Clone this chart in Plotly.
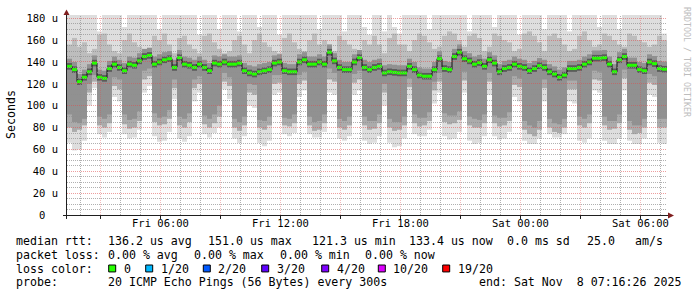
import plotly.graph_objects as go
import pandas as pd

# ---------------- data: 15-minute slices from Fri 7 Nov 01:19:30 to Sat 8 Nov 07:19:30 ----------------
median = [136,133,122,126,131,139,126,125,134,138,
          135,132,138,137,141,145,146,138,140,142,
          143,135,144,138,137,135,138,135,132,139,
          138,140,138,138,139,132,130,129,131,132,
          133,139,140,132,131,131,140,142,138,138,
          140,138,149,141,135,133,133,140,144,135,
          133,135,136,130,131,130.5,130,130,136,133,
          128,127,127,133,143,134,133,145,149,143,
          141,138,139.5,136,142,139,131,134,135,138,
          136,135,132,134,136.6,135,131,129,126,128,
          134,134,135,138,140,143.5,143.5,144,138,131,
          142,145,137,137,133,132,140,138.5,134,133.4]

smoke_min = [66,59,60,68,100,116,74,71,76,108,
             104,74,70,71,78,112,118,72,67,68,
             76,106,70,67,72,104,112,74,71,75,
             80,115,106,70,66,72,100,98,66,63,
             68,110,112,74,72,75,108,114,74,71,
             71,76,112,110,70,68,72,110,114,68,
             65,66,72,100,66,62,63,70,106,74,
             72,72,78,102,112,72,69,70,76,112,
             68,65,66,72,110,72,69,70,76,108,
             104,68,65,65,70,104,74,71,71,74,
             104,102,68,66,70,114,112,68,65,65,
             70,114,68,65,65,70,110,108,66,65]

smoke_low2 = [80,76,78,82,112,122,82,80,84,118,
              115,83,79,80,86,124,127,85,82,83,
              88,116,82,80,85,116,120,83,80,84,
              90,122,118,80,77,82,112,110,80,78,
              82,120,121,82,81,84,120,123,82,77,
              78,84,124,122,80,78,82,121,124,82,
              78,79,84,112,80,77,78,82,117,84,
              81,82,86,114,122,85,83,84,87,123,
              82,80,80,84,122,84,81,82,86,119,
              117,78,74,72,78,116,80,76,75,80,
              115,115,82,80,84,124,123,82,78,79,
              84,125,78,74,75,80,121,119,80,80]

smoke_low3 = [92,85,84,88,120,128,90,88,92,126,
              124,92,87,88,95,132,134,93,89,90,
              96,124,90,88,93,124,127,91,88,92,
              100,130,126,88,85,90,120,119,87,86,
              90,128,128,89,88,92,128,131,90,85,
              86,92,134,130,88,86,90,129,132,90,
              86,86,92,120,88,85,85,90,125,92,
              89,89,94,122,130,93,91,91,95,131,
              90,88,87,92,130,91,89,89,94,127,
              125,86,82,80,86,124,88,84,83,88,
              123,123,90,88,92,132,131,90,86,86,
              92,133,86,82,82,88,129,127,88,88]

smoke_high2 = [156,162,154,158,148,152,165,166,156,150,
               148,160,166,158,154,150,153,164,160,166,
               156,148,162,164,156,152,148,164,166,158,
               152,148,150,160,164,156,148,160,166,158,
               154,150,148,162,166,158,152,150,160,166,
               156,160,156,150,164,160,156,152,150,160,
               156,164,156,148,162,166,156,156,150,160,
               166,164,158,152,154,164,168,166,160,154,
               164,166,162,150,154,166,164,160,158,150,
               152,166,168,164,158,150,164,166,162,156,
               150,152,164,168,160,154,156,166,164,160,
               156,154,166,164,160,158,154,156,164,160]

smoke_max = [190,190,190,190,190,190,168,190,190,190,
             190,172,190,190,190,190,190,190,170,190,
             190,190,190,190,190,190,165,190,190,190,
             170,190,190,190,168,190,190,190,172,190,
             190,190,165,190,190,190,190,190,190,190,
             170,190,190,190,190,168,190,190,190,172,
             165,190,190,168,190,172,166,190,190,190,
             190,190,170,190,190,190,190,190,190,190,
             168,190,190,190,190,172,190,190,190,190,
             165,190,190,190,190,170,190,190,190,190,
             168,190,190,190,190,190,172,190,190,190,
             170,190,190,190,190,190,190,190,190,166]

ytick_vals = [0, 20, 40, 60, 80, 100, 120, 140, 160, 180]
ytick_text = ["0\u00a0\u00a0", "20\u00a0u", "40\u00a0u", "60\u00a0u", "80\u00a0u", "100\u00a0u",
              "120\u00a0u", "140\u00a0u", "160\u00a0u", "180\u00a0u"]

line_rtt = [("median rtt:", 16), ("136.2 us avg", 107.3), ("151.0 us max", 207.3),
            ("121.3 us min", 311.7), ("133.4 us now", 408.3), ("0.0 ms sd", 506.7),
            ("25.0", 586.7), ("am/s", 635)]
line_loss = [("packet loss:", 16), ("0.00 % avg", 107.3), ("0.00 % max", 193.3),
             ("0.00 % min", 279.3), ("0.00 % now", 365)]
loss_labels = ["0", "1/20", "2/20", "3/20", "4/20", "10/20", "19/20"]
loss_colors = ["#26ff00", "#00b8ff", "#0059ff", "#5e00ff", "#7e00ff", "#dd00ff", "#ff0000"]
loss_box_x = [108.7, 145.7, 203.3, 261.7, 321.7, 378.3, 442.7]
line_probe = [("probe:", 16), ("20 ICMP Echo Pings (56 Bytes) every 300s", 107.3),
              ("end: Sat Nov  8 07:16:26 2025", 478.3)]

# ---------------- geometry helpers (layout decorations only) ----------------
L, T, W, H = 67, 13, 600, 202
def px_x(px):
    return (px - L) / W
def px_y(py):
    return (T + H - py) / H

MONO = "DejaVu Sans Mono"
START = pd.Timestamp("2025-11-07 01:19:30")
END = pd.Timestamp("2025-11-08 07:19:30")
SLICE = pd.Timedelta(minutes=15)
n = len(median)
t_mid = [(START + SLICE * i + SLICE / 2).strftime("%Y-%m-%d %H:%M:%S") for i in range(n)]
width_ms = SLICE.total_seconds() * 1000

fig = go.Figure()

def band(lo, hi, color):
    fig.add_trace(go.Bar(x=t_mid, y=[h - l for l, h in zip(lo, hi)], base=lo, width=width_ms,
                         marker=dict(color=color, line=dict(width=0)),
                         hoverinfo="skip", showlegend=False))

band(smoke_min, smoke_max, "#dedede")
band(median, smoke_high2, "#bdbdbd")
band(smoke_low2, median, "#ababab")
band(smoke_low3, [m + 7 for m in median], "#919191")
band([m - 3 for m in median], [m + 3 for m in median], "#5a5a5a")

fig.add_trace(go.Scatter(x=t_mid, y=median, mode="lines",
                         line=dict(color="#111111", width=1, shape="hvh"),
                         hoverinfo="skip", showlegend=False))
fig.add_trace(go.Scatter(x=t_mid, y=median, mode="markers",
                         marker=dict(symbol="line-ew", size=3.5, color="#26ff00",
                                     line=dict(color="#26ff00", width=3)),
                         hoverinfo="skip", showlegend=False))

shapes = []
GRAY = "rgba(143,143,143,0.7)"
RED_H = "rgba(222,79,79,0.55)"
RED_V = "rgba(222,79,79,0.38)"
AXIS = "#1f1f1f"
hours = pd.date_range("2025-11-07 02:00", "2025-11-08 07:00", freq="h")
for col_sel in (False, True):
    for h in hours:
        if (h.hour % 3 == 0) != col_sel:
            continue
        hs = h.strftime("%Y-%m-%d %H:%M:%S")
        shapes.append(dict(type="line", xref="x", yref="paper", x0=hs, x1=hs, y0=0, y1=1,
                           line=dict(color=RED_V if col_sel else GRAY, width=1, dash="1px,1px"),
                           layer="above"))
        if col_sel:
            # small tick mark below the time axis
            shapes.append(dict(type="line", xref="x", yref="paper", x0=hs, x1=hs,
                               y0=px_y(216), y1=px_y(219), line=dict(color=AXIS, width=1),
                               layer="above"))
for col_sel in (False, True):
    for v in range(5, 181, 5):
        if (v % 20 == 0) != col_sel:
            continue
        shapes.append(dict(type="line", xref="paper", yref="y", x0=0, x1=1, y0=v, y1=v,
                           line=dict(color=RED_H if col_sel else GRAY, width=1, dash="1px,1px"),
                           layer="above"))

# axes lines and arrows
shapes.append(dict(type="line", xref="paper", yref="paper", x0=px_x(63), x1=px_x(668),
                   y0=px_y(215.5), y1=px_y(215.5), line=dict(color=AXIS, width=1), layer="above"))
shapes.append(dict(type="line", xref="paper", yref="paper", x0=px_x(66.5), x1=px_x(66.5),
                   y0=px_y(219), y1=px_y(12), line=dict(color=AXIS, width=1), layer="above"))
ARROW = "#801f1f"
shapes.append(dict(type="path", xref="paper", yref="paper", layer="above",
                   path=f"M {px_x(668)},{px_y(212.5)} L {px_x(668)},{px_y(218.5)} L {px_x(674)},{px_y(215.5)} Z",
                   fillcolor=ARROW, line=dict(color=ARROW, width=0)))
shapes.append(dict(type="path", xref="paper", yref="paper", layer="above",
                   path=f"M {px_x(63.5)},{px_y(13)} L {px_x(69.5)},{px_y(13)} L {px_x(66.5)},{px_y(7.5)} Z",
                   fillcolor=ARROW, line=dict(color=ARROW, width=0)))

# loss color boxes
for bx, c in zip(loss_box_x, loss_colors):
    shapes.append(dict(type="rect", xref="paper", yref="paper", x0=px_x(bx), x1=px_x(bx + 7),
                       y0=px_y(272.5), y1=px_y(265.5), fillcolor=c,
                       line=dict(color="black", width=1), layer="above"))

annotations = []
def text(s, x, y, size=11.6, color="black", anchor="left", angle=0):
    annotations.append(dict(text=s.replace(" ", "\u00a0"), x=px_x(x), y=px_y(y), xref="paper", yref="paper",
                            xanchor=anchor, yanchor="middle", showarrow=False, borderpad=0,
                            textangle=angle, font=dict(family=MONO, size=size, color=color)))

for s, x in line_rtt:
    text(s, x - 0.7, 241.5)
for s, x in line_loss:
    text(s, x - 0.7, 255.3)
text("loss color:", 16 - 0.7, 269.2)
for bx, lab in zip(loss_box_x, loss_labels):
    text(lab, bx + 14.6 - 0.7, 269.2)
for s, x in line_probe:
    text(s, x - 0.7, 283)

text("Seconds", 11, 114, anchor="center", angle=-90)
text("RRDTOOL / TOBI OETIKER", 687.5, 60, size=8.3, color="#bdbdbd", anchor="center", angle=90)

fig.update_layout(
    width=697, height=297,
    margin=dict(l=L, r=697 - L - W, t=T, b=297 - T - H, pad=0),
    paper_bgcolor="white", plot_bgcolor="white",
    barmode="overlay", showlegend=False,
    font=dict(family=MONO, size=10.5, color="black"),
    shapes=shapes, annotations=annotations,
)
fig.update_xaxes(type="date", range=[START.strftime("%Y-%m-%d %H:%M:%S"), END.strftime("%Y-%m-%d %H:%M:%S")],
                 showgrid=False, zeroline=False, showline=False,
                 tick0="2025-11-07 00:00:00", dtick=6 * 3600 * 1000, tickformat="%a %H:%M",
                 ticks="",
                 tickfont=dict(family=MONO, size=10.5, color="black"), fixedrange=True)
fig.update_yaxes(range=[0, 183], tickvals=ytick_vals, ticktext=ytick_text,
                 showgrid=False, zeroline=False, showline=False, ticks="",
                 ticklabelstandoff=8, tickfont=dict(family=MONO, size=10.5, color="black"),
                 fixedrange=True)

# make only horizontal shape lines pixel-crisp (vertical ones already sit on pixel centres)
post = ("document.querySelectorAll('.shapelayer path').forEach(function(p){"
        "var d=p.getAttribute('d')||'';"
        "var m=d.match(/^M([-\\d.e]+),([-\\d.e]+)L([-\\d.e]+),([-\\d.e]+)$/);"
        "if(m && Math.abs(parseFloat(m[2])-parseFloat(m[4]))<1e-6){p.style.shapeRendering='crispEdges';}"
        "});")
fig.write_html("out.html", post_script=post, config={"displayModeBar": False})
